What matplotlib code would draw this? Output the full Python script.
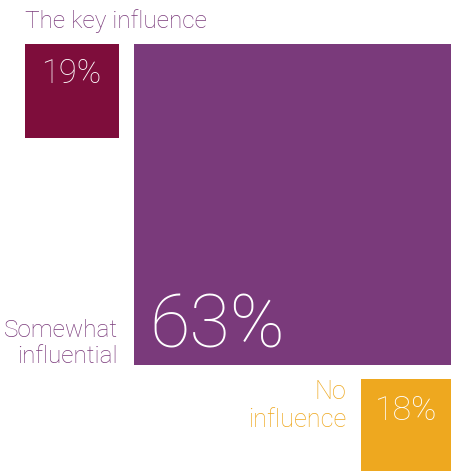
import matplotlib.pyplot as plt
from matplotlib.patches import Rectangle
from matplotlib import font_manager

# dados do gráfico
labels = ['The key influence', 'Somewhat\ninfluential', 'No\ninfluence']
values = [19, 63, 18]
colors = ['#7E0D3B', '#7A3A7B', '#EEA81F']

# escolhe uma fonte leve se existir
names = {f.name for f in font_manager.fontManager.ttflist}
family = ['Roboto', 'DejaVu Sans'] if 'Roboto' in names else ['DejaVu Sans']

W, H = 452, 471
fig = plt.figure(figsize=(W / 100, H / 100), dpi=100)
ax = fig.add_axes([0, 0, 1, 1])
ax.set_xlim(0, W)
ax.set_ylim(H, 0)
ax.axis('off')

# lado de cada quadrado proporcional ao valor
scale = 318 / max(values)
side = [v * scale for v in values]
gap = 13

# quadrado "The key influence"
x0, y0 = 25, 44
ax.add_patch(Rectangle((x0, y0), side[0] - 2, side[0] - 2, color=colors[0], lw=0))
ax.text(x0, y0 - 16, labels[0], color=colors[1], fontsize=17.6,
        family=family, weight='light', ha='left', va='baseline')
ax.text(x0 + side[0] / 2 - 2, y0 + 39, f'{values[0]}%', color='white', fontsize=23.5,
        family=family, weight='light', ha='center', va='baseline')

# quadrado grande
bx = x0 + side[0] + gap
ax.add_patch(Rectangle((bx, y0), side[1], side[1] + 3, color=colors[1], lw=0))
by1 = y0 + side[1] + 3
ax.text(bx + 15, by1 - 18, f'{values[1]}%', color='white', fontsize=53,
        family=family, weight='light', ha='left', va='baseline')
ax.text(bx - 16, by1 - 28, labels[1].split('\n')[0], color=colors[1], fontsize=17.5,
        family=family, weight='light', ha='right', va='baseline')
ax.text(bx - 16, by1 - 2, labels[1].split('\n')[1], color=colors[1], fontsize=17.5,
        family=family, weight='light', ha='right', va='baseline')

# quadrado "No influence"
ox = bx + side[1] - side[2]
oy = by1 + 14
ax.add_patch(Rectangle((ox, oy), side[2], side[2] + 1, color=colors[2], lw=0))
ax.text(ox + side[2] / 2, oy + 41, f'{values[2]}%', color='white', fontsize=24.5,
        family=family, weight='light', ha='center', va='baseline')
ax.text(ox - 15, oy + 20, labels[2].split('\n')[0], color=colors[2], fontsize=18.2,
        family=family, weight='light', ha='right', va='baseline')
ax.text(ox - 15, oy + 48, labels[2].split('\n')[1], color=colors[2], fontsize=18.2,
        family=family, weight='light', ha='right', va='baseline')

fig.savefig('out.png', dpi=100)
plt.close()
